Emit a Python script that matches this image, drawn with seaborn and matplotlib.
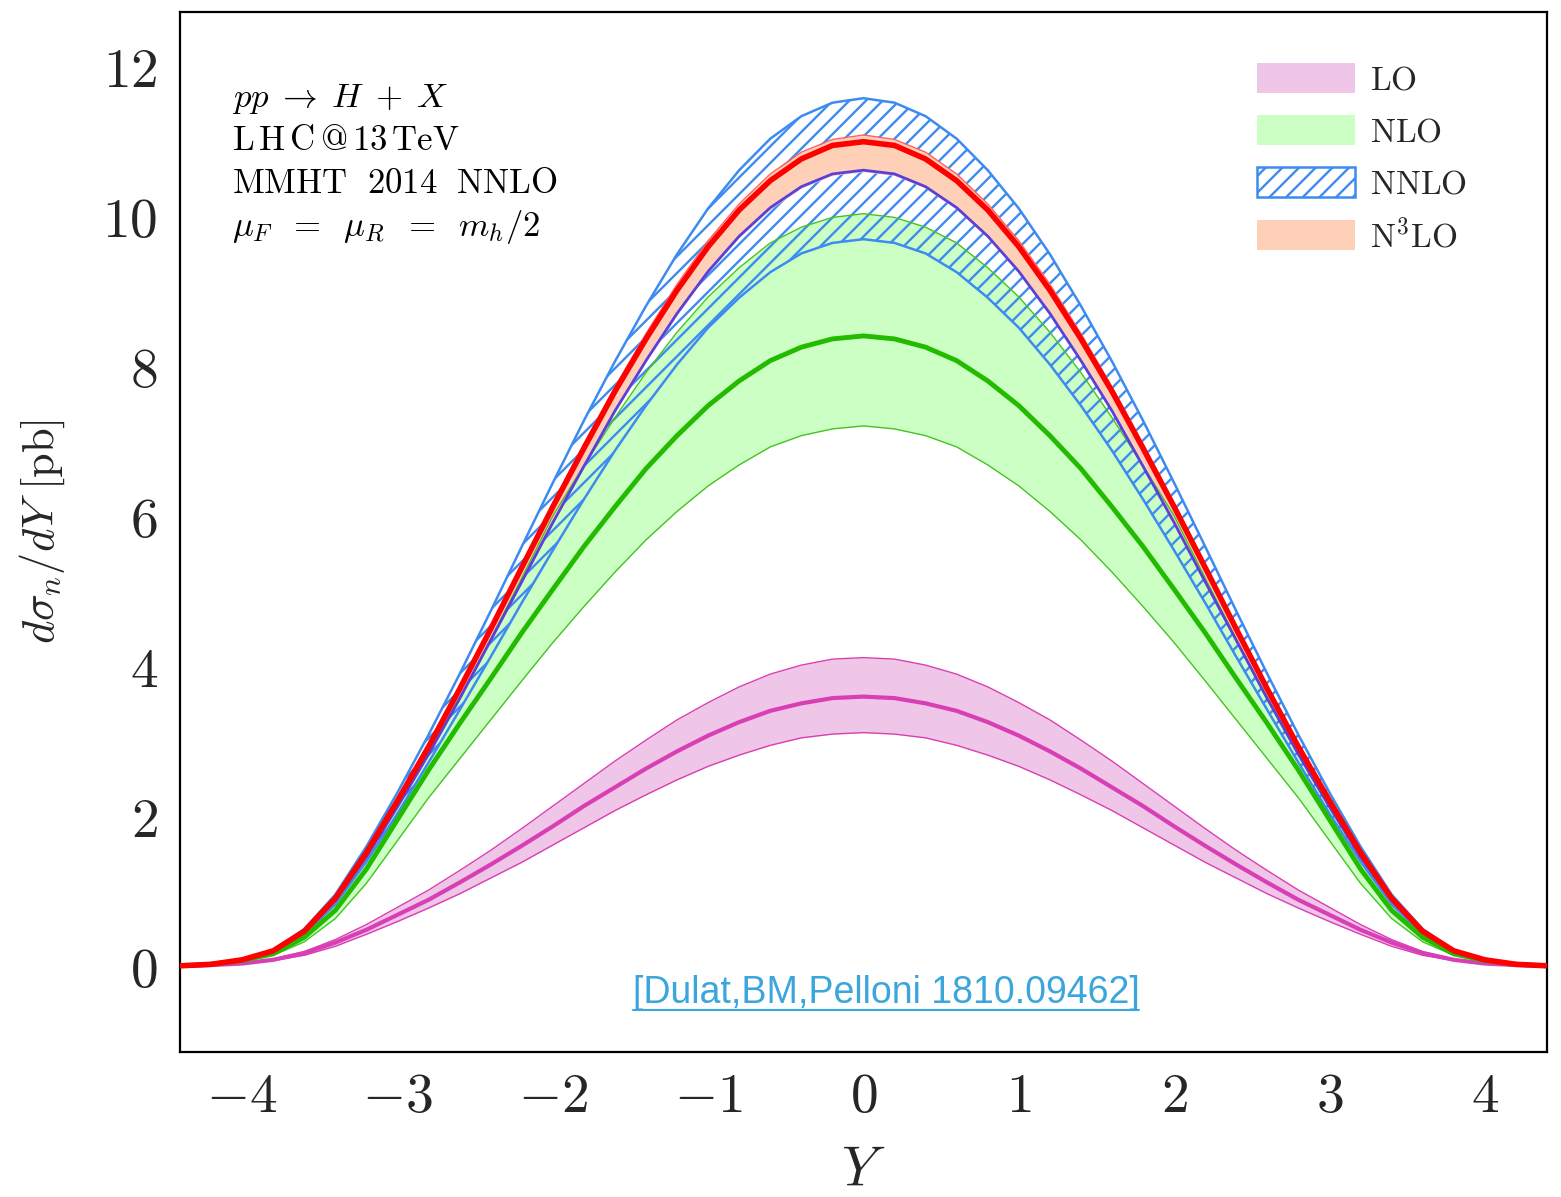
import numpy as np
import matplotlib
matplotlib.use("Agg")
import matplotlib.pyplot as plt
import seaborn as sns
from matplotlib.patches import Patch
from matplotlib.lines import Line2D

# ---------------- data ----------------
Y = [-4.4, -4.2, -4.0, -3.8, -3.6, -3.4, -3.2, -3.0, -2.8, -2.6, -2.4, -2.2, -2.0, -1.8, -1.6,
     -1.4, -1.2, -1.0, -0.8, -0.6, -0.4, -0.2, 0.0, 0.2, 0.4, 0.6, 0.8, 1.0, 1.2, 1.4, 1.6,
     1.8, 2.0, 2.2, 2.4, 2.6, 2.8, 3.0, 3.2, 3.4, 3.6, 3.8, 4.0, 4.2, 4.4]

lo_central = [0.00, 0.01, 0.03, 0.08, 0.17, 0.31, 0.48, 0.68, 0.88, 1.11, 1.35, 1.60, 1.86, 2.13, 2.38, 2.63, 2.86, 3.07, 3.25, 3.40, 3.50, 3.57,
              3.59,
              3.57, 3.50, 3.40, 3.25, 3.07, 2.86, 2.63, 2.38, 2.13, 1.86, 1.60, 1.35, 1.11, 0.88, 0.68, 0.48, 0.31, 0.17, 0.08, 0.03, 0.01, 0.00]
lo_upper = [0.00, 0.01, 0.04, 0.09, 0.19, 0.35, 0.55, 0.78, 1.01, 1.27, 1.54, 1.83, 2.13, 2.43, 2.73, 3.01, 3.28, 3.51, 3.72, 3.89, 4.01, 4.09,
            4.11,
            4.09, 4.01, 3.89, 3.72, 3.51, 3.28, 3.01, 2.73, 2.43, 2.13, 1.83, 1.54, 1.27, 1.01, 0.78, 0.55, 0.35, 0.19, 0.09, 0.04, 0.01, 0.00]
lo_lower = [0.00, 0.01, 0.03, 0.07, 0.14, 0.26, 0.42, 0.59, 0.77, 0.96, 1.17, 1.38, 1.61, 1.84, 2.07, 2.28, 2.48, 2.66, 2.81, 2.94, 3.04, 3.09,
            3.11,
            3.09, 3.04, 2.94, 2.81, 2.66, 2.48, 2.28, 2.07, 1.84, 1.61, 1.38, 1.17, 0.96, 0.77, 0.59, 0.42, 0.26, 0.14, 0.07, 0.03, 0.01, 0.00]

nlo_central = [0.00, 0.02, 0.07, 0.16, 0.38, 0.74, 1.29, 1.95, 2.61, 3.23, 3.83, 4.44, 5.02, 5.59, 6.12, 6.63, 7.07, 7.47, 7.80, 8.07, 8.25, 8.36,
               8.40,
               8.36, 8.25, 8.07, 7.80, 7.47, 7.07, 6.63, 6.12, 5.59, 5.02, 4.44, 3.83, 3.23, 2.61, 1.95, 1.29, 0.74, 0.38, 0.16, 0.07, 0.02, 0.00]
nlo_upper = [0.00, 0.02, 0.07, 0.18, 0.44, 0.87, 1.45, 2.13, 2.83, 3.58, 4.36, 5.17, 6.00, 6.67, 7.31, 7.91, 8.45, 8.92, 9.31, 9.64, 9.85, 9.98,
             10.03,
             9.98, 9.85, 9.64, 9.31, 8.92, 8.45, 7.91, 7.31, 6.67, 6.00, 5.17, 4.36, 3.58, 2.83, 2.13, 1.45, 0.87, 0.44, 0.18, 0.07, 0.02, 0.00]
nlo_lower = [0.00, 0.01, 0.06, 0.14, 0.32, 0.63, 1.10, 1.67, 2.24, 2.76, 3.28, 3.80, 4.31, 4.79, 5.25, 5.68, 6.06, 6.40, 6.68, 6.92, 7.07, 7.16,
             7.20,
             7.16, 7.07, 6.92, 6.68, 6.40, 6.06, 5.68, 5.25, 4.79, 4.31, 3.80, 3.28, 2.76, 2.24, 1.67, 1.10, 0.63, 0.32, 0.14, 0.06, 0.01, 0.00]

nnlo_central = [0.00, 0.02, 0.07, 0.19, 0.45, 0.87, 1.45, 2.12, 2.82, 3.56, 4.34, 5.12, 5.91, 6.66, 7.40, 8.07, 8.70, 9.26, 9.73, 10.11, 10.39, 10.56,
                10.61,
                10.56, 10.39, 10.11, 9.73, 9.26, 8.70, 8.07, 7.40, 6.66, 5.91, 5.12, 4.34, 3.56, 2.82, 2.12, 1.45, 0.87, 0.45, 0.19, 0.07, 0.02, 0.00]
nnlo_upper = [0.00, 0.02, 0.08, 0.21, 0.49, 0.95, 1.59, 2.31, 3.08, 3.89, 4.73, 5.59, 6.44, 7.27, 8.06, 8.80, 9.49, 10.10, 10.61, 11.03, 11.33, 11.51,
              11.57,
              11.51, 11.33, 11.03, 10.61, 10.10, 9.49, 8.80, 8.06, 7.27, 6.44, 5.59, 4.73, 3.89, 3.08, 2.31, 1.59, 0.95, 0.49, 0.21, 0.08, 0.02, 0.00]
nnlo_lower = [0.00, 0.02, 0.07, 0.17, 0.42, 0.82, 1.39, 2.03, 2.71, 3.41, 4.12, 4.84, 5.54, 6.22, 6.87, 7.47, 8.02, 8.51, 8.91, 9.25, 9.50, 9.64,
              9.69,
              9.64, 9.50, 9.25, 8.91, 8.51, 8.02, 7.47, 6.87, 6.22, 5.54, 4.84, 4.12, 3.41, 2.71, 2.03, 1.39, 0.82, 0.42, 0.17, 0.07, 0.02, 0.00]

n3lo_central = [0.00, 0.02, 0.08, 0.20, 0.46, 0.90, 1.51, 2.20, 2.92, 3.69, 4.49, 5.31, 6.12, 6.90, 7.66, 8.36, 9.01, 9.59, 10.08, 10.47, 10.76, 10.94,
                10.99,
                10.94, 10.76, 10.47, 10.08, 9.59, 9.01, 8.36, 7.66, 6.90, 6.12, 5.31, 4.49, 3.69, 2.92, 2.20, 1.51, 0.90, 0.46, 0.20, 0.08, 0.02, 0.00]
n3lo_upper = [0.00, 0.02, 0.08, 0.20, 0.47, 0.91, 1.52, 2.22, 2.95, 3.72, 4.53, 5.35, 6.17, 6.96, 7.72, 8.43, 9.09, 9.67, 10.16, 10.56, 10.85, 11.02,
              11.08,
              11.02, 10.85, 10.56, 10.16, 9.67, 9.09, 8.43, 7.72, 6.96, 6.17, 5.35, 4.53, 3.72, 2.95, 2.22, 1.52, 0.91, 0.47, 0.20, 0.08, 0.02, 0.00]
n3lo_lower = [0.00, 0.02, 0.07, 0.19, 0.44, 0.87, 1.45, 2.12, 2.82, 3.56, 4.33, 5.11, 5.90, 6.65, 7.38, 8.06, 8.68, 9.25, 9.71, 10.09, 10.37, 10.54,
              10.59,
              10.54, 10.37, 10.09, 9.71, 9.25, 8.68, 8.06, 7.38, 6.65, 5.90, 5.11, 4.33, 3.56, 2.82, 2.12, 1.45, 0.87, 0.44, 0.19, 0.07, 0.02, 0.00]

x_ticks = [-4, -3, -2, -1, 0, 1, 2, 3, 4]
x_tick_labels = [r"$-4$", r"$-3$", r"$-2$", r"$-1$", r"$0$", r"$1$", r"$2$", r"$3$", r"$4$"]
y_ticks = [0, 2, 4, 6, 8, 10, 12]
y_tick_labels = [r"$0$", r"$2$", r"$4$", r"$6$", r"$8$", r"$10$", r"$12$"]
legend_labels = [r"$\mathrm{LO}$", r"$\mathrm{NLO}$", r"$\mathrm{NNLO}$", r"$\mathrm{N^3LO}$"]
info_lines = [r"$pp\;\rightarrow\;H\;+\;X$",
              r"$\mathrm{L\,H\,C\,@\,13\,TeV}$",
              r"$\mathrm{MMHT\ \ 2014\ \ NNLO}$",
              r"$\mu_F\;\;=\;\;\mu_R\;\;=\;\;m_h/2$"]
citation = "[Dulat,BM,Pelloni 1810.09462]"

# ---------------- style ----------------
sns.set_theme(style="white")
plt.rcParams["font.family"] = ["DejaVu Sans"]
plt.rcParams["mathtext.fontset"] = "cm"
plt.rcParams["hatch.linewidth"] = 1.7

c_lo_fill, c_lo_line = "#f0c6e8", "#d93fb5"
c_nlo_fill, c_nlo_line, c_nlo_edge = "#ccffc4", "#22bb00", "#44c422"
c_nnlo = "#3d8bf0"
c_n3lo_fill, c_n3lo_line = "#ffd0b8", "#ff0000"

fig = plt.figure(figsize=(15.61, 11.97), dpi=100)
ax = fig.add_axes([0.1153, 0.1211, 0.8757, 0.8689])

# bands
ax.fill_between(Y, lo_lower, lo_upper, color=c_lo_fill, linewidth=0, zorder=1)
ax.fill_between(Y, nlo_lower, nlo_upper, color=c_nlo_fill, linewidth=0, zorder=2)
ax.fill_between(Y, nnlo_lower, nnlo_upper, facecolor="none", edgecolor=c_nnlo, hatch="//", linewidth=0, zorder=3)
ax.fill_between(Y, n3lo_lower, n3lo_upper, color=c_n3lo_fill, linewidth=0, zorder=4)

# band edges
for arr in (lo_lower, lo_upper):
    sns.lineplot(x=Y, y=arr, color=c_lo_line, linewidth=1.0, ax=ax, zorder=5)
for arr in (nlo_lower, nlo_upper):
    sns.lineplot(x=Y, y=arr, color=c_nlo_edge, linewidth=1.0, ax=ax, zorder=5)
for arr in (nnlo_lower, nnlo_upper):
    sns.lineplot(x=Y, y=arr, color=c_nnlo, linewidth=1.8, ax=ax, zorder=5)
sns.lineplot(x=Y, y=n3lo_upper, color="#ff6060", linewidth=1.0, ax=ax, zorder=6)

# central lines
sns.lineplot(x=Y, y=lo_central, color=c_lo_line, linewidth=3.0, ax=ax, zorder=7)
sns.lineplot(x=Y, y=nlo_central, color=c_nlo_line, linewidth=3.5, ax=ax, zorder=7)
sns.lineplot(x=Y, y=nnlo_central, color="#5b3fd8", linewidth=2.0, ax=ax, zorder=7)
sns.lineplot(x=Y, y=n3lo_central, color=c_n3lo_line, linewidth=4.0, ax=ax, zorder=8)

# axes
ax.set_xlim(-4.4, 4.4)
ax.set_ylim(-1.15, 12.72)
ax.set_xticks(x_ticks)
ax.set_xticklabels(x_tick_labels, fontsize=40)
ax.set_yticks(y_ticks)
ax.set_yticklabels(y_tick_labels, fontsize=40)
ax.set_yticks(np.arange(-1.0, 12.6, 0.5), minor=True)
ax.tick_params(axis="x", which="major", direction="in", length=25, width=1.6, color="#aaaaaa", pad=13)
ax.tick_params(axis="y", which="major", direction="in", length=25, width=1.3, color="#888888", pad=16)
ax.tick_params(axis="y", which="minor", direction="in", length=16, width=1.3, color="#888888")
ax.tick_params(axis="x", which="minor", length=0)
for sp in ax.spines.values():
    sp.set_color("black")
    sp.set_linewidth(1.6)
ax.set_xlabel(r"$Y$", fontsize=40, labelpad=14)
ax.set_ylabel(r"$d\sigma_n/dY\ [\mathrm{pb}]$", fontsize=32)
ax.yaxis.set_label_coords(-0.083, 0.5)

# info text
y_pos = [0.909, 0.867, 0.826, 0.785]
for txt, yp in zip(info_lines, y_pos):
    ax.text(0.038, yp, txt, transform=ax.transAxes, fontsize=25, ha="left", va="baseline", color="black")

# legend
handles = [Patch(facecolor=c_lo_fill, edgecolor="none"),
           Patch(facecolor=c_nlo_fill, edgecolor="none"),
           Patch(facecolor="white", edgecolor=c_nnlo, hatch="//", linewidth=1.8),
           Patch(facecolor=c_n3lo_fill, edgecolor="none")]
leg = ax.legend(handles, legend_labels, loc="upper left", bbox_to_anchor=(0.788, 0.951), frameon=False,
                fontsize=24, handlelength=2.94, handleheight=1.02, labelspacing=0.55, handletextpad=0.45,
                borderaxespad=0.0, borderpad=0.0)

# citation (underlined)
ax.text(0.5165, 0.047, citation, transform=ax.transAxes, fontsize=27, color="#3aa6dc",
        family="Liberation Sans", ha="center", va="baseline")
ax.add_line(Line2D([0.3314, 0.7015], [0.0404, 0.0404], transform=ax.transAxes, color="#3aa6dc", linewidth=1.5))

fig.savefig("out.png", dpi=100)
